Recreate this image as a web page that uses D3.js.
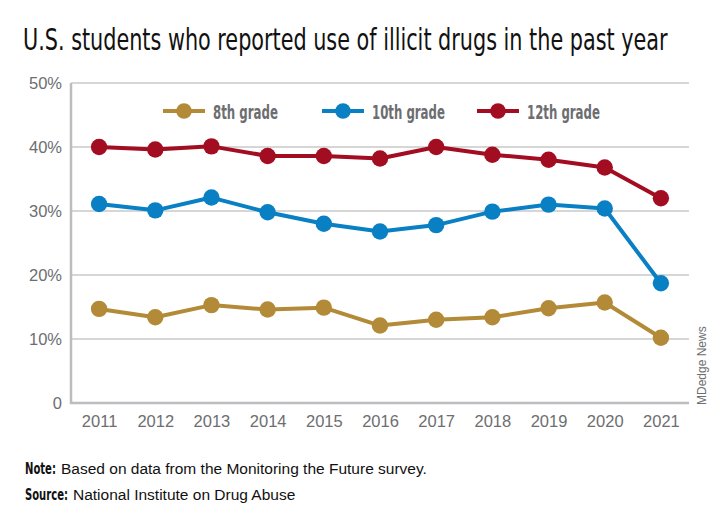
<!DOCTYPE html>
<html><head><meta charset="utf-8">
<script src="https://cdn.jsdelivr.net/npm/d3@7/dist/d3.min.js"></script>
<style>
body{margin:0;background:#fff;}
svg{display:block;}
</style></head><body>
<svg id="c" width="720" height="528"></svg>
<script>
const years = [2011,2012,2013,2014,2015,2016,2017,2018,2019,2020,2021];
const grade8  = [14.7,13.4,15.3,14.6,14.9,12.1,13.0,13.4,14.8,15.7,10.2];
const grade10 = [31.1,30.1,32.1,29.8,28.0,26.8,27.8,29.9,31.0,30.4,18.7];
const grade12 = [40.0,39.6,40.1,38.6,38.6,38.2,40.0,38.8,38.0,36.8,32.0];
const seriesNames = ["8th grade","10th grade","12th grade"];
const yTicks = [0,10,20,30,40,50];
const yTickLabels = ["0","10%","20%","30%","40%","50%"];

const colors = ["#b38a37","#0a80c4","#a30d21"];
const series = [grade8, grade10, grade12];

const svg = d3.select("#c");
const L=71, R=689, T=83, B=403;
const x = d3.scalePoint().domain(years).range([L,R]).padding(0.5);
const y = d3.scaleLinear().domain([0,50]).range([B,T]);

const condensed = "'DejaVu Sans Condensed','Liberation Sans',sans-serif";
const regular = "'Liberation Sans',Arial,sans-serif";
const gray = "#6d6e71";

function fitText(sel, px, py, w){
  const nat = sel.node().getComputedTextLength();
  sel.attr("x",0).attr("y",0).attr("transform",`translate(${px},${py}) scale(${w/nat},1)`);
  return sel;
}

// title
const title = svg.append("text")
  .attr("font-family",condensed).attr("font-size",29.5).attr("fill","#111")
  .text("U.S. students who reported use of illicit drugs in the past year");
fitText(title, 23, 50, 645);

// gridlines
svg.append("g").selectAll("line").data(yTicks.filter(d=>d>0)).join("line")
  .attr("x1",L).attr("x2",R).attr("y1",d=>y(d)).attr("y2",d=>y(d))
  .attr("stroke","#c8c8ca").attr("stroke-width",1.5);

// axes lines
svg.append("line").attr("x1",L).attr("x2",L).attr("y1",T).attr("y2",B+1)
  .attr("stroke","#bcbdc0").attr("stroke-width",2.5);
svg.append("line").attr("x1",L-1).attr("x2",R).attr("y1",B).attr("y2",B)
  .attr("stroke","#bcbdc0").attr("stroke-width",2.5);

// y tick labels
const yAxis = d3.axisLeft(y).tickValues(yTicks).tickFormat((d,i)=>yTickLabels[i]).tickSize(0).tickPadding(9);
const ga = svg.append("g").attr("transform",`translate(${L},0)`).call(yAxis);
ga.select(".domain").remove();
ga.selectAll("text").attr("font-family",regular).attr("font-size",16.5).attr("fill",gray);

// x tick labels
const xAxis = d3.axisBottom(x).tickSize(0).tickPadding(12);
const gx = svg.append("g").attr("transform",`translate(0,${B})`).call(xAxis);
gx.select(".domain").remove();
gx.selectAll("text").attr("font-family",regular).attr("font-size",16.5).attr("fill",gray);

// lines and points
const line = d3.line().x((d,i)=>x(years[i])).y(d=>y(d));
series.forEach((s,k)=>{
  svg.append("path").datum(s).attr("d",line).attr("fill","none")
    .attr("stroke",colors[k]).attr("stroke-width",4).attr("stroke-linejoin","round");
  svg.append("g").selectAll("circle").data(s).join("circle")
    .attr("cx",(d,i)=>x(years[i])).attr("cy",d=>y(d)).attr("r",8.2).attr("fill",colors[k]);
});

// legend
const legX = [184,343,498];
const legW = [65,73,73];
const lg = svg.append("g");
seriesNames.forEach((n,k)=>{
  const cx = legX[k], cy = 111;
  lg.append("line").attr("x1",cx-21).attr("x2",cx+21).attr("y1",cy).attr("y2",cy)
    .attr("stroke",colors[k]).attr("stroke-width",4);
  lg.append("circle").attr("cx",cx).attr("cy",cy).attr("r",7.8).attr("fill",colors[k]);
  const t = lg.append("text").attr("font-family",condensed)
    .attr("font-size",20).attr("font-weight","bold").attr("fill",gray).text(n);
  fitText(t, cx+29, 118.5, legW[k]);
});

// credit
svg.append("text").attr("transform","translate(706,405) rotate(-90)")
  .attr("font-family",regular).attr("font-size",12).attr("fill",gray)
  .text("MDedge News");

// notes
const n1 = svg.append("text").attr("font-family",condensed).attr("font-weight","bold")
  .attr("font-size",15.5).attr("fill","#111").text("Note:");
fitText(n1, 25, 474, 31);
svg.append("text").attr("x",61).attr("y",474).attr("font-family",regular).attr("font-size",15.5)
  .attr("fill","#111").text("Based on data from the Monitoring the Future survey.");
const s1 = svg.append("text").attr("font-family",condensed).attr("font-weight","bold")
  .attr("font-size",15.5).attr("fill","#111").text("Source:");
fitText(s1, 25, 500, 43);
svg.append("text").attr("x",73).attr("y",500).attr("font-family",regular).attr("font-size",15.5)
  .attr("fill","#111").text("National Institute on Drug Abuse");
</script>
</body></html>
